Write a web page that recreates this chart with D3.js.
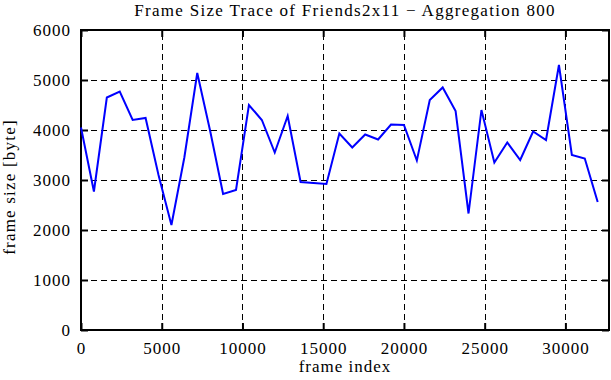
<!DOCTYPE html>
<html>
<head>
<meta charset="utf-8">
<script src="https://cdn.jsdelivr.net/npm/d3@7"></script>
<style>
  html, body { margin: 0; padding: 0; background: #fff; }
  svg { display: block; }
  text { font-family: "Liberation Serif", "DejaVu Serif", serif; fill: #000; }
</style>
</head>
<body>
<svg id="chart" width="611" height="380"></svg>
<script>
// Data
const aggregation = 800;
const frameSizes = [4050, 2770, 4650, 4770, 4200, 4240, 3100, 2100, 3450, 5140,
                    3980, 2720, 2800, 4500, 4200, 3550, 4280, 2960, 2940, 2920,
                    3930, 3650, 3910, 3810, 4110, 4100, 3390, 4600, 4850, 4380,
                    2330, 4400, 3350, 3750, 3400, 3970, 3800, 5300, 3500, 3430, 2560];
const frameIndex = frameSizes.map((d, i) => i * aggregation);
const xTicks = [0, 5000, 10000, 15000, 20000, 25000, 30000];
const yTicks = [0, 1000, 2000, 3000, 4000, 5000, 6000];
const xMax = 32700;
const titleText = "Frame Size Trace of Friends2x11 \u2212 Aggregation 800";
const xLabel = "frame index";
const yLabel = "frame size [byte]";

const svg = d3.select("#chart");
const W = 611, H = 380;
const m = { left: 81, right: W - 609, top: 30, bottom: H - 330 };
const x = d3.scaleLinear().domain([0, xMax]).range([m.left, W - m.right]);
const y = d3.scaleLinear().domain([0, 6000]).range([H - m.bottom, m.top]);

// grid
const grid = svg.append("g").attr("stroke", "#000").attr("stroke-width", 1).attr("stroke-dasharray", "6,4");
xTicks.filter(t => t > 0).forEach(t => {
  grid.append("line").attr("x1", Math.round(x(t)) + 0.5).attr("x2", Math.round(x(t)) + 0.5)
    .attr("y1", y(0)).attr("y2", y(6000));
});
yTicks.filter(t => t > 0 && t < 6000).forEach(t => {
  grid.append("line").attr("y1", Math.round(y(t)) + 0.5).attr("y2", Math.round(y(t)) + 0.5)
    .attr("x1", x(0)).attr("x2", x(xMax));
});

// axes with inward ticks
const tl = 7;
const xAxisB = d3.axisBottom(x).tickValues(xTicks).tickSize(-tl).tickPadding(12).tickFormat(d3.format("d"));
const xAxisT = d3.axisTop(x).tickValues(xTicks).tickSize(-tl).tickFormat("");
const yAxisL = d3.axisLeft(y).tickValues(yTicks).tickSize(-tl).tickPadding(10).tickFormat(d3.format("d"));
const yAxisR = d3.axisRight(y).tickValues(yTicks).tickSize(-tl).tickFormat("");

function style(g) {
  g.select(".domain").remove();
  g.selectAll(".tick line").attr("stroke", "#000").attr("stroke-width", 2);
  g.selectAll(".tick text").style("font-size", "17px").style("letter-spacing", "1px")
    .style("font-family", "'Liberation Serif', serif").attr("fill", "#000");
}
svg.append("g").attr("transform", `translate(0,${y(0)})`).call(xAxisB).call(style);
svg.append("g").attr("transform", `translate(0,${y(6000)})`).call(xAxisT).call(style);
svg.append("g").attr("transform", `translate(${x(0)},0)`).call(yAxisL).call(style)
  .selectAll(".tick text").attr("dy", "0.35em");
svg.append("g").attr("transform", `translate(${x(xMax)},0)`).call(yAxisR).call(style);

// frame
svg.append("rect").attr("x", x(0)).attr("y", y(6000))
  .attr("width", x(xMax) - x(0)).attr("height", y(0) - y(6000))
  .attr("fill", "none").attr("stroke", "#000").attr("stroke-width", 2);

// line
const line = d3.line().x((d, i) => x(frameIndex[i])).y(d => y(d));
svg.append("path").datum(frameSizes).attr("d", line)
  .attr("fill", "none").attr("stroke", "#0000ff").attr("stroke-width", 2).attr("stroke-linejoin", "miter");

// labels
svg.append("text").attr("x", 345).attr("y", 16).attr("text-anchor", "middle")
  .style("font-size", "17px").style("letter-spacing", "1.3px").text(titleText);
svg.append("text").attr("x", 345).attr("y", 372).attr("text-anchor", "middle")
  .style("font-size", "17px").style("letter-spacing", "1px").text(xLabel);
svg.append("text").attr("transform", "translate(15,187) rotate(-90)").attr("text-anchor", "middle")
  .style("font-size", "17px").style("letter-spacing", "1.2px").text(yLabel);
</script>
</body>
</html>
